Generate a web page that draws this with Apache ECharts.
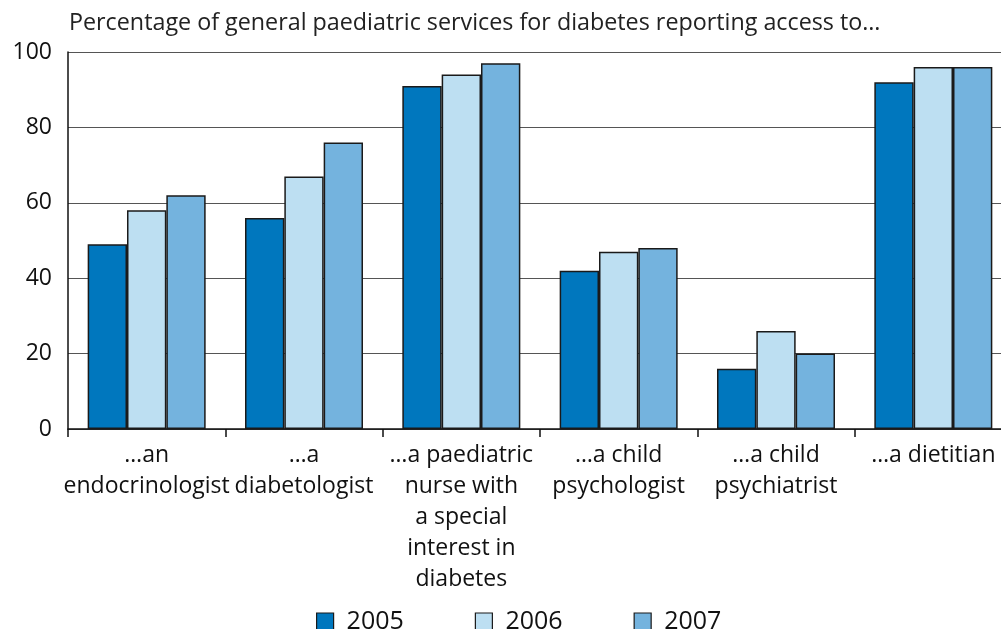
<!DOCTYPE html>
<html>
<head>
<meta charset="utf-8">
<script src="https://cdn.jsdelivr.net/npm/echarts@6/dist/echarts.min.js"></script>
<style>
html,body{margin:0;padding:0;background:#fff;}
#chart{width:1001px;height:629px;}
</style>
</head>
<body>
<div id="chart"></div>
<script>
// Access to specialist staff by general paediatric diabetes services (%)
const categories = [
  '…an\nendocrinologist',
  '…a\ndiabetologist',
  '…a paediatric\nnurse with\na special\ninterest in\ndiabetes',
  '…a child\npsychologist',
  '…a child\npsychiatrist',
  '…a dietitian'
];
const years = ['2005', '2006', '2007'];
const values2005 = [49, 56, 91, 42, 16, 92];
const values2006 = [58, 67, 94, 47, 26, 96];
const values2007 = [62, 76, 97, 48, 20, 96];
const yTicks = [0, 20, 40, 60, 80, 100];

const colors = ['#0077be', '#bddff2', '#74b3de'];
const FONT = '"Open Sans", Lato, sans-serif';

const chart = echarts.init(document.getElementById('chart'));
const seriesData = [values2005, values2006, values2007];

chart.setOption({
  animation: false,
  textStyle: { fontFamily: FONT },
  title: {
    text: 'Percentage of general paediatric services for diabetes reporting access to…',
    left: 64, top: 7,
    textStyle: { fontFamily: FONT, fontSize: 23.3, fontWeight: 'normal', color: '#222' }
  },
  legend: {
    data: years,
    left: 316, top: 609,
    padding: 0,
    itemWidth: 17, itemHeight: 17, itemGap: 71,
    icon: 'rect',
    textStyle: { fontFamily: FONT, fontSize: 25, color: '#111', padding: [0, 0, 0, 8] },
    itemStyle: { borderColor: '#1a1a1a', borderWidth: 1.2 }
  },
  // plot runs slightly past the right edge of the canvas
  grid: { left: 68, width: 944, top: 52, bottom: 200, containLabel: false, outerBoundsMode: 'none' },
  xAxis: {
    type: 'category',
    data: categories,
    axisLine: { lineStyle: { color: '#111', width: 1.5 } },
    axisTick: { show: true, length: 8, lineStyle: { color: '#111', width: 1.5 } },
    axisLabel: {
      fontFamily: FONT, fontSize: 23, color: '#111', lineHeight: 31, margin: 11,
      interval: 0, align: 'center'
    }
  },
  yAxis: {
    type: 'value',
    min: yTicks[0], max: yTicks[yTicks.length - 1], interval: 20,
    axisLine: { show: true, lineStyle: { color: '#111', width: 1.5 } },
    axisTick: { show: false },
    axisLabel: { fontFamily: FONT, fontSize: 23, color: '#111', margin: 16 },
    splitLine: { lineStyle: { color: '#555', width: 1 } }
  },
  series: years.map((y, i) => ({
    name: y,
    type: 'bar',
    data: seriesData[i],
    barWidth: '25%',
    barGap: '0%',
    itemStyle: { color: colors[i], borderColor: '#1a1a1a', borderWidth: 1.5 }
  }))
});
</script>
</body>
</html>
